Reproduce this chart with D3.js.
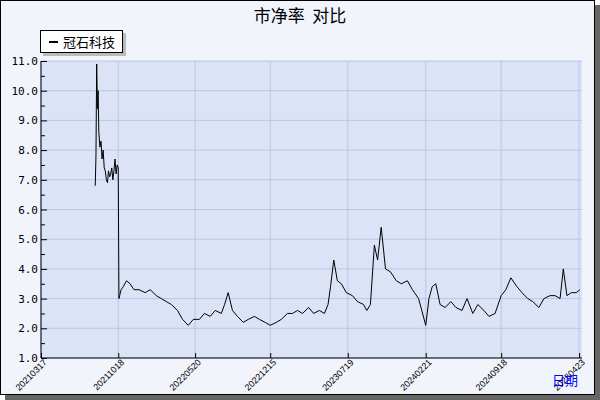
<!DOCTYPE html>
<html><head><meta charset="utf-8">
<script src="https://cdn.jsdelivr.net/npm/d3@7"></script>
<style>body{margin:0;background:#fff}svg{display:block;font-family:"DejaVu Sans Mono",monospace}</style>
</head><body><svg id="c" width="600" height="400"></svg>
<script>
const title = '市净率  对比'
const seriesName = '冠石科技'
const tickDates = ['20210317','20211018','20220520','20221215','20230719','20240221','20240918','20250423']
const yTicks = [1,2,3,4,5,6,7,8,9,10,11]
const dates = ['20210815','20210817','20210819','20210821','20210823','20210825','20210828','20210831','20210903','20210906','20210909','20210912','20210915','20210918','20210921','20210924','20210927','20210930','20211003','20211006','20211009','20211012','20211015','20211018','20211020','20211022','20211026',
'20211101','20211110','20211120','20211201','20211215','20220101','20220115','20220201','20220215','20220301','20220315','20220401','20220415','20220501','20220515','20220601','20220615','20220701','20220715','20220801','20220810','20220820','20220901','20220915','20221001','20221015','20221101','20221115','20221201','20221215','20230101','20230115','20230201','20230215','20230301','20230315','20230401','20230415','20230501','20230515','20230525','20230601','20230610','20230620','20230701','20230715','20230801','20230815','20230901','20230910','20230920','20231001','20231010','20231020','20231101','20231115','20231201','20231215','20240101','20240115','20240201','20240210','20240221','20240301','20240310','20240320','20240401','20240415','20240501','20240515','20240601','20240615','20240701','20240715','20240801','20240815','20240901','20240918','20241001','20241015','20241101','20241115','20241201','20241215','20250101','20250115','20250201','20250215','20250301','20250310','20250320','20250401','20250415','20250425']
const values = [6.8,7.8,10.9,9.4,10.0,8.6,8.1,8.3,7.7,8.0,7.4,7.3,7.0,6.9,7.3,7.1,7.2,7.4,7.0,7.3,7.7,7.2,7.5,7.4,3.0,3.1,3.3,
3.4,3.6,3.5,3.3,3.3,3.2,3.3,3.1,3.0,2.9,2.8,2.6,2.3,2.1,2.3,2.3,2.5,2.4,2.6,2.5,2.8,3.2,2.6,2.4,2.2,2.3,2.4,2.3,2.2,2.1,2.2,2.3,2.5,2.5,2.6,2.5,2.7,2.5,2.6,2.5,2.8,3.4,4.3,3.6,3.5,3.2,3.1,2.9,2.8,2.6,2.8,4.8,4.3,5.4,4.0,3.9,3.6,3.5,3.6,3.3,3.0,2.6,2.1,3.0,3.4,3.5,2.8,2.7,2.9,2.7,2.6,3.0,2.5,2.8,2.6,2.4,2.5,3.1,3.3,3.7,3.4,3.2,3.0,2.9,2.7,3.0,3.1,3.1,3.0,4.0,3.1,3.2,3.2,3.3]

const p = d3.timeParse('%Y%m%d')
const svg = d3.select('#c')
const m = {l:41, r:582, t:61, b:358}

svg.append('rect').attr('x',0.5).attr('y',0.5).attr('width',594).attr('height',394).attr('fill','#f2f4fc').attr('stroke','#000')
svg.append('rect').attr('x',595).attr('y',5).attr('width',5).attr('height',395).attr('fill','#666')
svg.append('rect').attr('x',5).attr('y',395).attr('width',595).attr('height',5).attr('fill','#666')

const x = d3.scaleTime().domain([p(tickDates[0]), p('20250501')]).range([m.l, m.r])
const y = d3.scaleLinear().domain([1, 11]).range([m.b, m.t])

svg.append('rect').attr('x',m.l).attr('y',m.t).attr('width',m.r-m.l).attr('height',m.b-m.t).attr('fill','#dce3f6')

const g = svg.append('g')
g.selectAll('.gx').data(tickDates).join('line').attr('x1',d=>x(p(d))).attr('x2',d=>x(p(d))).attr('y1',m.t).attr('y2',m.b).attr('stroke','#b8c6ea')
g.selectAll('.gy').data(yTicks).join('line').attr('x1',m.l).attr('x2',m.r).attr('y1',d=>y(d)).attr('y2',d=>y(d)).attr('stroke','#b8c6ea')

const line = d3.line().x((d,i)=>x(p(dates[i]))).y(d=>y(d))
svg.append('path').datum(values).attr('d',line).attr('fill','none').attr('stroke','#000').attr('stroke-width',1)

const yAxis = svg.append('g').attr('transform',`translate(${m.l},0)`)
  .call(d3.axisLeft(y).tickValues(d3.range(1,11.01,0.5)).tickSize(4).tickFormat(d=>Number.isInteger(d)?d.toFixed(1):''))
yAxis.selectAll('.tick line').attr('x2',d=>Number.isInteger(d)?6:4).attr('x1',0)
yAxis.selectAll('text').attr('x',-3).attr('font-size',11).attr('font-family','DejaVu Sans Mono')
yAxis.select('.domain').attr('d',`M0,${m.t}V${m.b}`).attr('stroke','#000')

const xAxis = svg.append('g').attr('transform',`translate(0,${m.b})`)
  .call(d3.axisBottom(x).tickValues(tickDates.map(p)).tickSize(-5).tickFormat(d3.timeFormat('%Y%m%d')))
xAxis.select('.domain').attr('d',`M${m.l},0H${m.r}`).attr('stroke','#000')
xAxis.selectAll('text').attr('font-size',9).attr('text-anchor','end').attr('y',0).attr('dy',0).attr('transform','translate(6,5) rotate(-45)')

svg.append('text').attr('x',565).attr('y',385).attr('fill','#00f').attr('font-size',13).attr('font-family','Noto Sans CJK SC').attr('text-anchor','middle').text('日期')
svg.append('text').attr('x',300).attr('y',22).attr('font-size',17).attr('font-family','Noto Sans CJK SC').attr('text-anchor','middle').attr('xml:space','preserve').text(title)

svg.append('rect').attr('x',43).attr('y',33).attr('width',83).attr('height',23).attr('fill','#bbb')
svg.append('rect').attr('x',40.5).attr('y',30.5).attr('width',82).attr('height',22).attr('fill','#fff').attr('stroke','#000')
svg.append('line').attr('x1',49).attr('x2',58).attr('y1',42).attr('y2',42).attr('stroke','#000').attr('stroke-width',2)
svg.append('text').attr('x',63).attr('y',47).attr('font-size',13).attr('font-family','Noto Sans CJK SC').text(seriesName)
</script></body></html>
